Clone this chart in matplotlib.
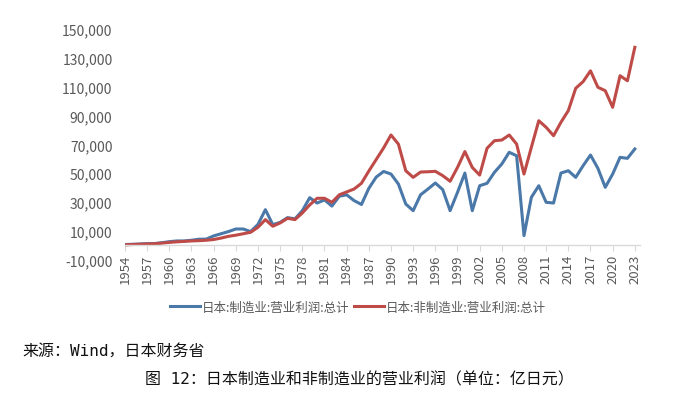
import matplotlib
matplotlib.use("Agg")
import matplotlib.pyplot as plt
from matplotlib.ticker import FuncFormatter

plt.rcParams['font.family'] = ['Noto Sans CJK SC', 'DejaVu Sans']

years = list(range(1954, 2024))

manufacturing = [
    500, 700, 900, 1100, 1200, 1800, 2500, 3000, 3000, 3500,
    4200, 4300, 6500, 8000, 9500, 11300, 11300, 9500, 14500, 24700,
    14300, 15900, 19200, 18300, 24000, 33000, 29300, 31500, 27200, 34000,
    35000, 31000, 28300, 39500, 47300, 51200, 49400, 42500, 28600, 24000,
    35000, 39000, 43200, 38600, 24000, 36700, 50100, 24000, 41300, 43000,
    50600, 56400, 64500, 62100, 6700, 33300, 41300, 29800, 29300, 50100,
    51700, 47100, 55200, 62600, 53400, 40200, 49400, 61000, 60300, 66800,
]

non_manufacturing = [
    300, 500, 700, 900, 1100, 1500, 2000, 2400, 2700, 3000,
    3200, 3500, 4000, 5000, 6200, 7000, 8000, 9000, 12500, 17800,
    13200, 15500, 18700, 17800, 22400, 28000, 32600, 32600, 29800, 35000,
    37000, 39000, 43000, 51500, 59500, 67500, 76500, 70200, 51700, 47100,
    50800, 51000, 51300, 48300, 44400, 54000, 65000, 54000, 48700, 67300,
    72500, 73000, 76500, 70200, 49400, 68000, 86400, 81800, 76000, 85300,
    93400, 108900, 113500, 121000, 109600, 107200, 95700, 117600, 114100, 137300,
]

series_names = ["日本:制造业:营业利润:总计", "日本:非制造业:营业利润:总计"]
y_ticks = [-10000, 10000, 30000, 50000, 70000, 90000, 110000, 130000, 150000]
x_ticks = list(range(1954, 2024, 3))

source_text = "来源：Wind，日本财务省"
caption_text = "图 12：日本制造业和非制造业的营业利润（单位：亿日元）"

fig = plt.figure(figsize=(7.0, 4.06), dpi=100)
ax = fig.add_axes([125 / 700, 1 - 260.7 / 406, 515 / 700, 230.7 / 406])

blue = '#4a78a8'
red = '#be4b48'
l1, = ax.plot(years, manufacturing, color=blue, lw=2.2, solid_joinstyle='round')
l2, = ax.plot(years, non_manufacturing, color=red, lw=2.2, solid_joinstyle='round')

ax.set_xlim(1954, 2023.7)
ax.set_ylim(-10000, 150000)
ax.set_yticks(y_ticks)
ax.yaxis.set_major_formatter(FuncFormatter(lambda v, p: f"{int(v):,}"))

for s in ['top', 'right', 'left']:
    ax.spines[s].set_visible(False)
ax.spines['bottom'].set_position(('data', 0))
ax.spines['bottom'].set_color('#d9d9d9')
ax.spines['bottom'].set_linewidth(1.0)

ax.set_xticks(x_ticks)
ax.set_xticklabels([str(x) for x in x_ticks])

ax.tick_params(axis='y', length=0, pad=9, labelsize=10, labelcolor='#595959')
ax.tick_params(axis='x', length=4, width=0.8, color='#d9d9d9', pad=2,
               labelsize=9.5, labelcolor='#595959', labelrotation=90)

fig.legend([l1, l2], series_names, loc='center', bbox_to_anchor=(358 / 700, 1 - 308 / 406),
           ncol=2, frameon=False, fontsize=9, labelcolor='#595959',
           handlelength=2.4, handletextpad=0.2, columnspacing=0.3)

mono_cjk = ['DejaVu Sans Mono', 'Noto Sans CJK SC']
fig.text(22 / 700, 1 - 352 / 406, source_text, ha='left', va='center',
         fontsize=11.5, family=mono_cjk, color='#111111')
fig.text(359 / 700, 1 - 380 / 406, caption_text, ha='center', va='center',
         fontsize=11.5, family=mono_cjk, color='#111111')

fig.savefig('out.png', dpi=100)
